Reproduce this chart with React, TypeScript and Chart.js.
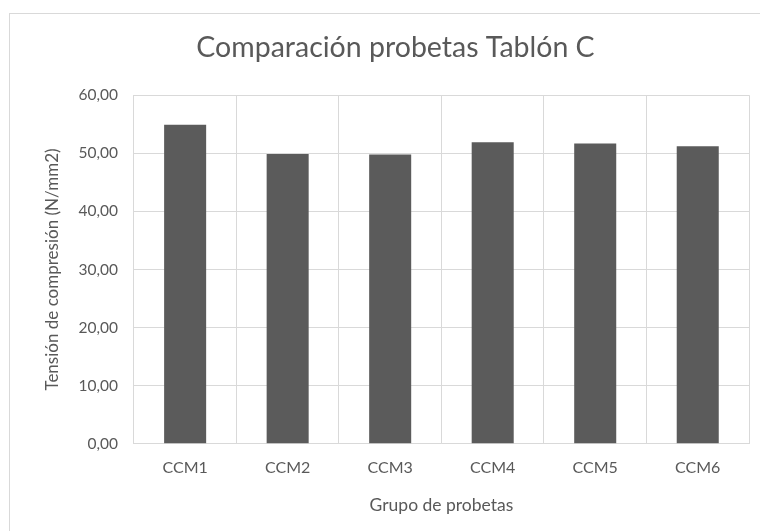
import React, { useEffect, useRef } from "react";
import { Chart, registerables } from "chart.js";

Chart.register(...registerables);

const categories = ["CCM1", "CCM2", "CCM3", "CCM4", "CCM5", "CCM6"];
const values = [54.9, 49.9, 49.8, 51.9, 51.7, 51.2];
const chartTitle = "Comparación probetas Tablón C";
const xTitle = "Grupo de probetas";
const yTitle = "Tensión de compresión (N/mm2)";

const FONT = "Lato, 'Open Sans', sans-serif";
const TEXT = "#595959";
const GRID = "#d9d9d9";

export default function App() {
  const ref = useRef<HTMLCanvasElement | null>(null);
  useEffect(() => {
    document.body.style.margin = "0";
    const chart = new Chart(ref.current!, {
      type: "bar",
      data: {
        labels: categories,
        datasets: [
          {
            data: values,
            backgroundColor: "#5b5b5b",
            borderWidth: 0,
            barPercentage: 0.41,
            categoryPercentage: 1,
          },
        ],
      },
      options: {
        animation: false,
        responsive: false,
        maintainAspectRatio: false,
        layout: { padding: { left: 42, right: 11, top: 31, bottom: 15 } },
        plugins: {
          legend: { display: false },
          tooltip: { enabled: false },
          title: {
            display: true,
            text: chartTitle,
            color: TEXT,
            font: { family: FONT, size: 28.5, weight: "normal" },
            padding: { top: 0, bottom: 30 },
          },
        },
        scales: {
          x: {
            grid: { color: GRID, drawTicks: false, offset: true },
            border: { color: GRID },
            ticks: {
              color: TEXT,
              font: { family: FONT, size: 16 },
              padding: 14,
            },
            title: {
              display: true,
              text: xTitle,
              color: TEXT,
              font: { family: FONT, size: 17.5 },
              padding: { top: 4, bottom: 0 },
            },
          },
          y: {
            min: 0,
            max: 60,
            grid: { color: GRID, drawTicks: false },
            border: { color: GRID },
            ticks: {
              stepSize: 10,
              color: TEXT,
              font: { family: FONT, size: 15.5 },
              padding: 16,
              callback: (v: any) => Number(v).toFixed(2).replace(".", ","),
            },
            title: {
              display: true,
              text: yTitle,
              color: TEXT,
              font: { family: FONT, size: 17 },
              padding: { top: 0, bottom: 0 },
            },
          },
        },
      },
    });
    return () => chart.destroy();
  }, []);
  return (
    <div style={{ position: "relative", width: 760, height: 531, overflow: "hidden", background: "#fff" }}>
      <div
        style={{
          position: "absolute",
          left: 9,
          top: 13,
          width: 800,
          height: 600,
          border: "1px solid #d9d9d9",
          boxSizing: "border-box",
        }}
      />
      <canvas ref={ref} width={760} height={531} style={{ position: "absolute", left: 0, top: 0 }} />
    </div>
  );
}
